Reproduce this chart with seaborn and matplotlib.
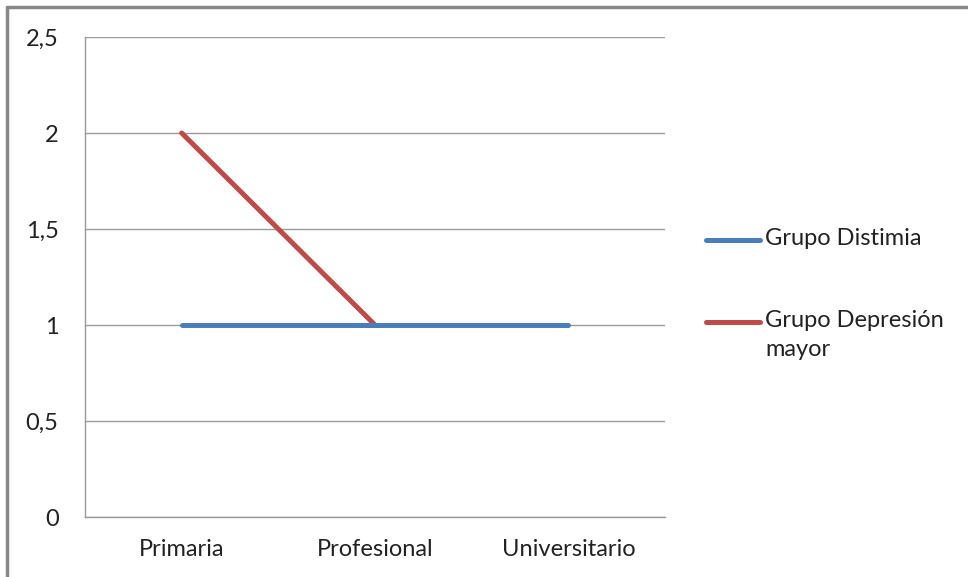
import matplotlib
matplotlib.use("Agg")
import matplotlib.pyplot as plt
from matplotlib.lines import Line2D
import seaborn as sns
import pandas as pd
import numpy as np

categories = ["Primaria", "Profesional", "Universitario"]
distimia = [1, 1, 1]
depresion = [2, 1, np.nan]
series_names = ["Grupo Distimia", "Grupo Depresión\nmayor"]
yticks = [0, 0.5, 1, 1.5, 2, 2.5]
ytick_labels = ["0", "0,5", "1", "1,5", "2", "2,5"]

colors = {"Grupo Distimia": "#4a7ebb", "Grupo Depresión\nmayor": "#be4b48"}

sns.set_style("white")
plt.rcParams["font.family"] = ["Lato", "DejaVu Sans"]
FS = 17

df = pd.DataFrame({
    "x": list(range(len(categories))) * 2,
    "valor": distimia + depresion,
    "serie": [series_names[0]] * 3 + [series_names[1]] * 3,
})

fig = plt.figure(figsize=(9.68, 5.77), dpi=100)
ax = fig.add_axes([85 / 968, 1 - 517 / 577, (665 - 85) / 968, (517 - 37) / 577])

# draw red first, blue on top
sns.lineplot(data=df[df.serie == series_names[1]].dropna(), x="x", y="valor", color=colors[series_names[1]],
             linewidth=3.6, ax=ax, legend=False, zorder=3, solid_capstyle="round")
sns.lineplot(data=df[df.serie == series_names[0]], x="x", y="valor", color=colors[series_names[0]],
             linewidth=3.6, ax=ax, legend=False, zorder=4, solid_capstyle="round")

ax.set_xlim(-0.5, len(categories) - 0.5)
ax.set_ylim(0, 2.5)
ax.set_yticks(yticks)
ax.set_yticklabels(ytick_labels)
ax.set_xticks(range(len(categories)))
ax.set_xticklabels(categories)
ax.set_xticks(np.arange(-0.5, len(categories), 1.0), minor=True)
ax.tick_params(axis="x", which="major", length=0, pad=16, labelsize=FS, colors="#222222")
ax.tick_params(axis="x", which="minor", length=7, width=1, color="#999999", direction="out")
ax.tick_params(axis="y", which="major", length=7, width=1, color="#999999", direction="out",
               pad=12, labelsize=FS, labelcolor="#222222")
ax.set_xlabel("")
ax.set_ylabel("")
ax.grid(axis="y", color="#9a9a9a", linewidth=1)
ax.set_axisbelow(True)
for s in ["top", "right"]:
    ax.spines[s].set_visible(False)
for s in ["left", "bottom"]:
    ax.spines[s].set_color("#999999")
    ax.spines[s].set_linewidth(1)

# legend (drawn to match the reference layout: handle aligned with first text line)
W, H = 968, 577
leg_y = [240, 322]
for name, yy in zip(series_names, leg_y):
    fig.add_artist(Line2D([706 / W, 760 / W], [1 - yy / H, 1 - yy / H], transform=fig.transFigure,
                          color=colors[name], linewidth=3.6, solid_capstyle="round"))
    fig.text(765 / W, 1 - (yy - 12) / H, name, ha="left", va="top", fontsize=FS,
             color="#222222", linespacing=1.45)

# figure border (top and left only visible)
fig.add_artist(Line2D([7 / W, 7 / W], [0, 1 - 7 / H], transform=fig.transFigure, color="#888888", linewidth=2.5))
fig.add_artist(Line2D([7 / W, 1], [1 - 7 / H, 1 - 7 / H], transform=fig.transFigure, color="#888888", linewidth=2.5))

fig.savefig("out.png", dpi=100)
